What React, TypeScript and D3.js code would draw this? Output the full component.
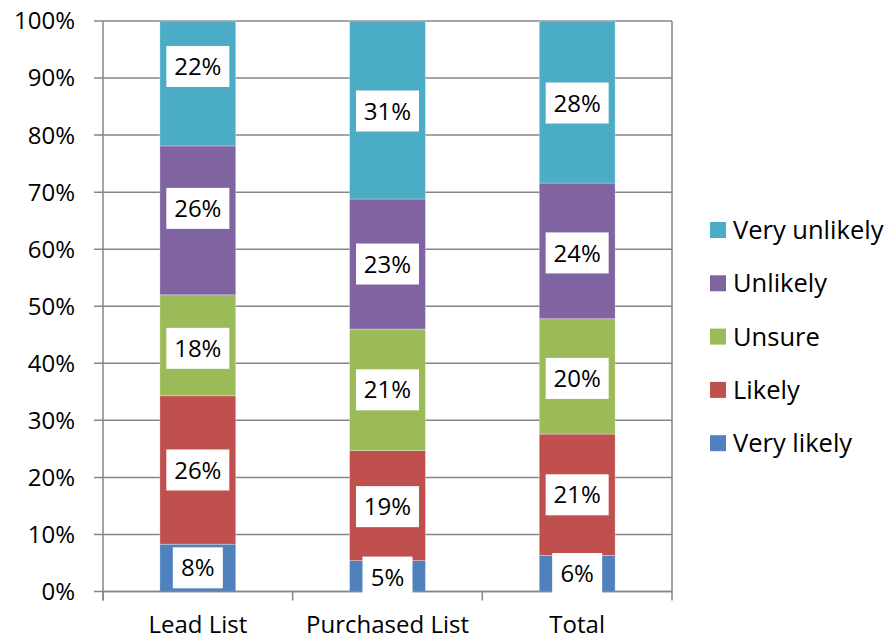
import React from "react";
import * as d3 from "d3";

const categories = ["Lead List", "Purchased List", "Total"];
const seriesNames = ["Very likely", "Likely", "Unsure", "Unlikely", "Very unlikely"];
const veryLikely = [8.3, 5.4, 6.3];
const likely = [26.0, 19.3, 21.3];
const unsure = [17.7, 21.3, 20.2];
const unlikely = [26.1, 22.8, 23.8];
const veryUnlikely = [21.9, 31.2, 28.4];
const yTicks = [0, 10, 20, 30, 40, 50, 60, 70, 80, 90, 100];
const colors = ["#4F81BD", "#C0504D", "#9BBB59", "#8064A2", "#4BACC6"];
// manual label nudges (px) per series per category, as in the original
const labelNudge = [
  [0, 1, 0],
  [0, 1, 0],
  [3, 0, 2],
  [-12, 0, 2],
  [-17, 1, 1],
];

const W = 890;
const H = 639;
const M = { left: 103, right: 672, top: 21, bottom: 591.5 };
const FONT = "'Open Sans', sans-serif";

export default function App() {
  const values = [veryLikely, likely, unsure, unlikely, veryUnlikely];
  const rows = categories.map((c, i) => {
    const r: any = { cat: c };
    seriesNames.forEach((s, j) => (r[s] = values[j][i]));
    return r;
  });
  const stack = d3.stack<any>().keys(seriesNames)(rows);
  const xb = d3.scaleBand<string>().domain(categories).range([M.left, M.right]);
  const barW = xb.bandwidth() * 0.4;
  const barX = (c: string) => xb(c)! + (xb.bandwidth() - barW) / 2;
  const y = d3.scaleLinear().domain([0, 100]).range([M.bottom, M.top]);
  const grid = "#868686";

  const labelFor = (v: number) => `${Math.round(v)}%`;
  const textW = (s: string) => (s.length === 2 ? 32 : 45);

  return (
    <svg width={W} height={H} style={{ position: "absolute", left: 0, top: 0, background: "#fff" }} fontFamily={FONT}>
      {yTicks.map((t) => (
        <line key={t} x1={M.left - 9} x2={M.right} y1={y(t)} y2={y(t)} stroke={grid} strokeWidth={1.5} />
      ))}
      {yTicks.map((t) => (
        <text key={"l" + t} x={75} y={y(t)} dy="0.35em" textAnchor="end" fontSize={24} fill="#000">
          {t}%
        </text>
      ))}
      {stack.map((s, j) =>
        s.map((d, i) => (
          <rect
            key={j + "-" + i}
            x={barX(categories[i])}
            width={barW}
            y={y(d[1])}
            height={y(d[0]) - y(d[1])}
            fill={colors[j]}
            stroke="#ffffff"
            strokeOpacity={0.5}
            strokeWidth={0.6}
          />
        ))
      )}
      <line x1={M.left} x2={M.left} y1={M.top} y2={M.bottom + 9} stroke={grid} strokeWidth={1.5} />
      <line x1={M.right} x2={M.right} y1={M.top} y2={M.bottom + 9} stroke={grid} strokeWidth={1.5} />
      <line x1={M.left} x2={M.right} y1={M.bottom} y2={M.bottom} stroke={grid} strokeWidth={1.5} />
      {categories.map((c) => (
        <line key={"t" + c} x1={xb(c)} x2={xb(c)} y1={M.bottom} y2={M.bottom + 9} stroke={grid} strokeWidth={1.5} />
      ))}
      {categories.map((c) => (
        <text key={"c" + c} x={xb(c)! + xb.bandwidth() / 2} y={633} textAnchor="middle" fontSize={24} fill="#000">
          {c}
        </text>
      ))}
      {stack.map((s, j) =>
        s.map((d, i) => {
          const v = d[1] - d[0];
          const lab = labelFor(v);
          const cx = barX(categories[i]) + barW / 2;
          const cy = (y(d[0]) + y(d[1])) / 2 + labelNudge[j][i];
          const bw = textW(lab) + 18;
          return (
            <g key={"d" + j + "-" + i}>
              <rect x={cx - bw / 2} y={cy - 20.5} width={bw} height={41} fill="#fff" />
              <text x={cx} y={cy} dy="0.36em" textAnchor="middle" fontSize={24} fill="#000">
                {lab}
              </text>
            </g>
          );
        })
      )}
      {seriesNames
        .slice()
        .reverse()
        .map((s, k) => {
          const j = seriesNames.length - 1 - k;
          const cy = 230 + k * 53.3;
          return (
            <g key={"lg" + s}>
              <rect x={710} y={cy - 8} width={16} height={16} fill={colors[j]} />
              <text x={733} y={cy} dy="0.36em" fontSize={25.5} fill="#000">
                {s}
              </text>
            </g>
          );
        })}
    </svg>
  );
}
